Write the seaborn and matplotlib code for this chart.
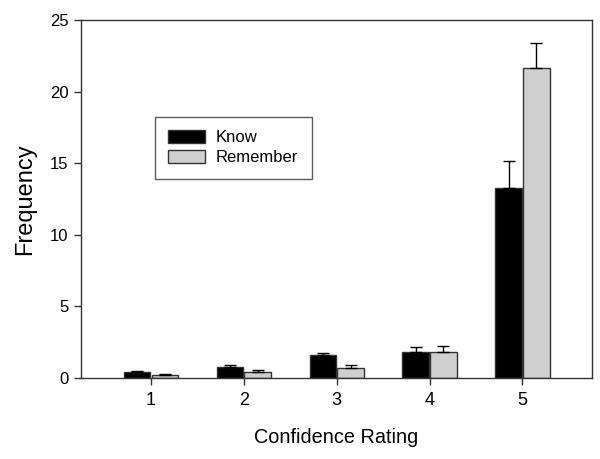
import matplotlib
matplotlib.use("Agg")
import matplotlib.pyplot as plt
import seaborn as sns
import pandas as pd
import numpy as np

categories = ["1", "2", "3", "4", "5"]
know = [0.42, 0.75, 1.58, 1.84, 13.25]
know_err = [0.10, 0.14, 0.19, 0.35, 1.90]
remember = [0.21, 0.40, 0.72, 1.79, 21.65]
remember_err = [0.09, 0.16, 0.21, 0.47, 1.77]
series = ["Know", "Remember"]
colors = ["#000000", "#cfcfcf"]

sns.set_style("white")
plt.rcParams["font.family"] = ["Liberation Sans", "DejaVu Sans"]
plt.rcParams["text.color"] = "black"
plt.rcParams["axes.labelcolor"] = "black"
plt.rcParams["xtick.color"] = "black"
plt.rcParams["ytick.color"] = "black"

df = pd.DataFrame({
    "Confidence Rating": categories * 2,
    "Frequency": know + remember,
    "Type": [series[0]] * 5 + [series[1]] * 5,
})

fig = plt.figure(figsize=(6, 4.59), dpi=100)
ax = fig.add_axes([0.135, 0.1765, 0.852, 0.78])
sns.barplot(data=df, x="Confidence Rating", y="Frequency", hue="Type",
            palette=colors, width=0.6, gap=0.06, errorbar=None,
            edgecolor="#333333", linewidth=1.0, ax=ax)

errs = [know_err, remember_err]
for cont, err in zip(ax.containers, errs):
    xs = [p.get_x() + p.get_width() / 2 for p in cont.patches]
    ys = [p.get_height() for p in cont.patches]
    ax.errorbar(xs, ys, yerr=[np.zeros(len(err)), err], fmt="none",
                ecolor="black", elinewidth=1.0, capsize=4.3, capthick=1.0, zorder=1)

ax.set_ylim(0, 25)
ax.set_xlim(-0.75, 4.75)
ax.set_yticks([0, 5, 10, 15, 20, 25])
for s in ax.spines.values():
    s.set_color("#333333")
    s.set_linewidth(1.0)
ax.tick_params(axis="both", direction="out", length=5, width=1, color="#333333",
               bottom=True, left=True, top=False, right=False, pad=4)
ax.tick_params(axis="y", labelsize=12)
ax.tick_params(axis="x", labelsize=13, pad=5)
ax.set_xlabel("Confidence Rating", fontsize=14.3, labelpad=14)
ax.set_ylabel("Frequency", fontsize=17, labelpad=10)

leg = ax.legend(loc="upper left", bbox_to_anchor=(0.145, 0.729), fontsize=12,
                frameon=True, fancybox=False, edgecolor="#333333",
                handlelength=2.2, handleheight=0.75, borderpad=0.8,
                handletextpad=0.65, labelspacing=0.3, borderaxespad=0)
leg.get_frame().set_linewidth(1.0)

fig.savefig("out.png", dpi=100)
